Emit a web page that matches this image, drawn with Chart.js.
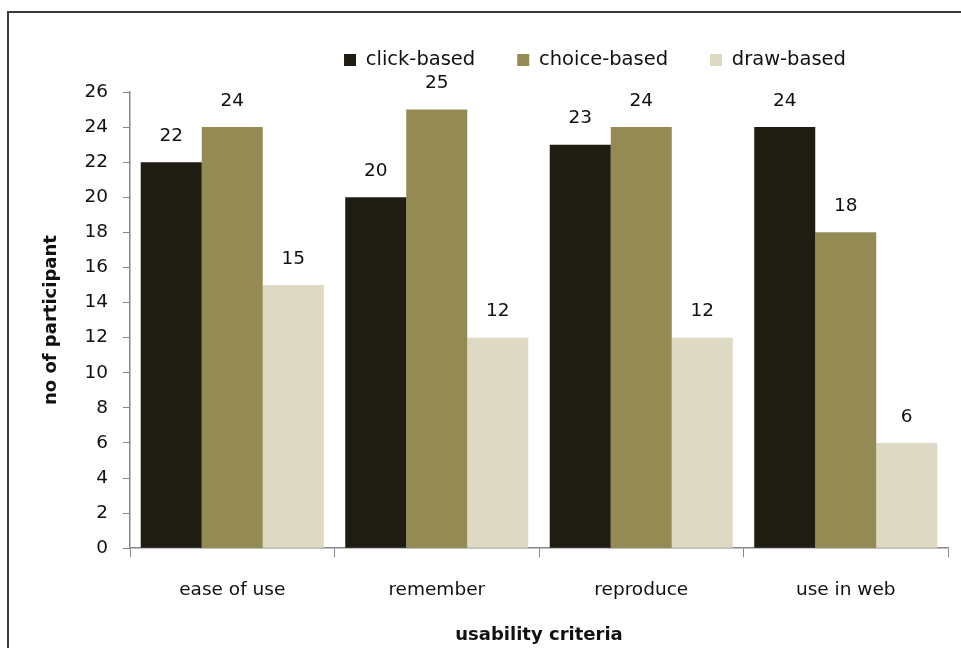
<!DOCTYPE html>
<html>
<head>
<meta charset="utf-8">
<script src="https://cdn.jsdelivr.net/npm/chart.js@4.4.1/dist/chart.umd.min.js"></script>
<style>
  html, body { margin: 0; padding: 0; background: #fff; overflow: hidden; }
  #wrap { position: absolute; left: 0; top: 0; width: 961px; height: 648px; }
  #frame { position: absolute; left: 7px; top: 11px; width: 1000px; height: 1000px;
           border-left: 2px solid #3a3a3a; border-top: 2px solid #3a3a3a; pointer-events: none; }
  canvas { position: absolute; left: 0; top: 0; }
</style>
</head>
<body>
<div id="wrap">
  <canvas id="c" width="961" height="648"></canvas>
  <div id="frame"></div>
</div>
<script>
const categories = ["ease of use", "remember", "reproduce", "use in web"];
const seriesNames = ["click-based", "choice-based", "draw-based"];
const clickBased = [22, 20, 23, 24];
const choiceBased = [24, 25, 24, 18];
const drawBased = [15, 12, 12, 6];
const yTicks = [0, 2, 4, 6, 8, 10, 12, 14, 16, 18, 20, 22, 24, 26];
const colors = ["#1f1d12", "#948a54", "#ddd9c3"];

const FONT = "'DejaVu Sans', sans-serif";
const FS = 18.5;
const LFS = 19.5;

const valueLabels = {
  id: 'valueLabels',
  afterDatasetsDraw(chart) {
    const ctx = chart.ctx;
    ctx.save();
    ctx.font = FS + "px " + FONT;
    ctx.fillStyle = "#111";
    ctx.textAlign = "center";
    ctx.textBaseline = "middle";
    chart.data.datasets.forEach((ds, i) => {
      chart.getDatasetMeta(i).data.forEach((bar, j) => {
        ctx.fillText(String(ds.data[j]), bar.x, bar.y - 26);
      });
    });
    ctx.restore();
  }
};

const LEGEND_PAD = 42;
const legendShift = {
  id: 'legendShift',
  afterLayout(chart) {
    const lg = chart.legend;
    if (!lg) return;
    const dx = 595 - (lg.left + lg.right) / 2;
    const dy = (60 - LEGEND_PAD - LFS / 2) - lg.top;
    lg.left += dx; lg.right += dx; lg.top += dy; lg.bottom += dy;
    if (lg.legendHitBoxes) lg.legendHitBoxes.forEach(h => { h.left += dx; h.top += dy; });
  }
};

new Chart(document.getElementById('c'), {
  type: 'bar',
  data: {
    labels: categories,
    datasets: [
      { label: seriesNames[0], data: clickBased, backgroundColor: colors[0] },
      { label: seriesNames[1], data: choiceBased, backgroundColor: colors[1] },
      { label: seriesNames[2], data: drawBased, backgroundColor: colors[2] }
    ]
  },
  options: {
    responsive: false,
    animation: false,
    devicePixelRatio: 1,
    layout: { padding: { top: 92 - LFS - LEGEND_PAD - 10, right: 13, left: 0, bottom: 2 } },
    datasets: { bar: { categoryPercentage: 0.895, barPercentage: 1.0 } },
    plugins: {
      legend: {
        position: 'top',
        labels: {
          boxWidth: 12, boxHeight: 12, padding: LEGEND_PAD,
          color: '#111',
          font: { family: FONT, size: LFS }
        }
      },
      tooltip: { enabled: false }
    },
    scales: {
      x: {
        grid: { display: true, drawOnChartArea: false, drawTicks: true, tickLength: 9, color: '#868686', offset: true },
        border: { display: true, color: '#868686', width: 1.5 },
        ticks: { color: '#111', padding: 22, font: { family: FONT, size: FS } },
        title: { display: true, text: 'usability criteria', color: '#111',
                 font: { family: FONT, size: 18, weight: 'bold' }, padding: { top: 1, bottom: 0 } }
      },
      y: {
        min: 0, max: 26,
        afterBuildTicks(scale) { scale.ticks = yTicks.map(v => ({ value: v })); },
        afterFit(scale) { scale.width = 130; },
        grid: { display: true, drawOnChartArea: false, drawTicks: true, tickLength: 7, color: '#868686' },
        border: { display: true, color: '#868686', width: 1.5 },
        ticks: { color: '#111', padding: 15, font: { family: FONT, size: FS } },
        title: { display: true, text: 'no of participant', color: '#111',
                 font: { family: FONT, size: 18, weight: 'bold' }, padding: { top: 41, bottom: 0 } }
      }
    }
  },
  plugins: [valueLabels, legendShift]
});
</script>
</body>
</html>
